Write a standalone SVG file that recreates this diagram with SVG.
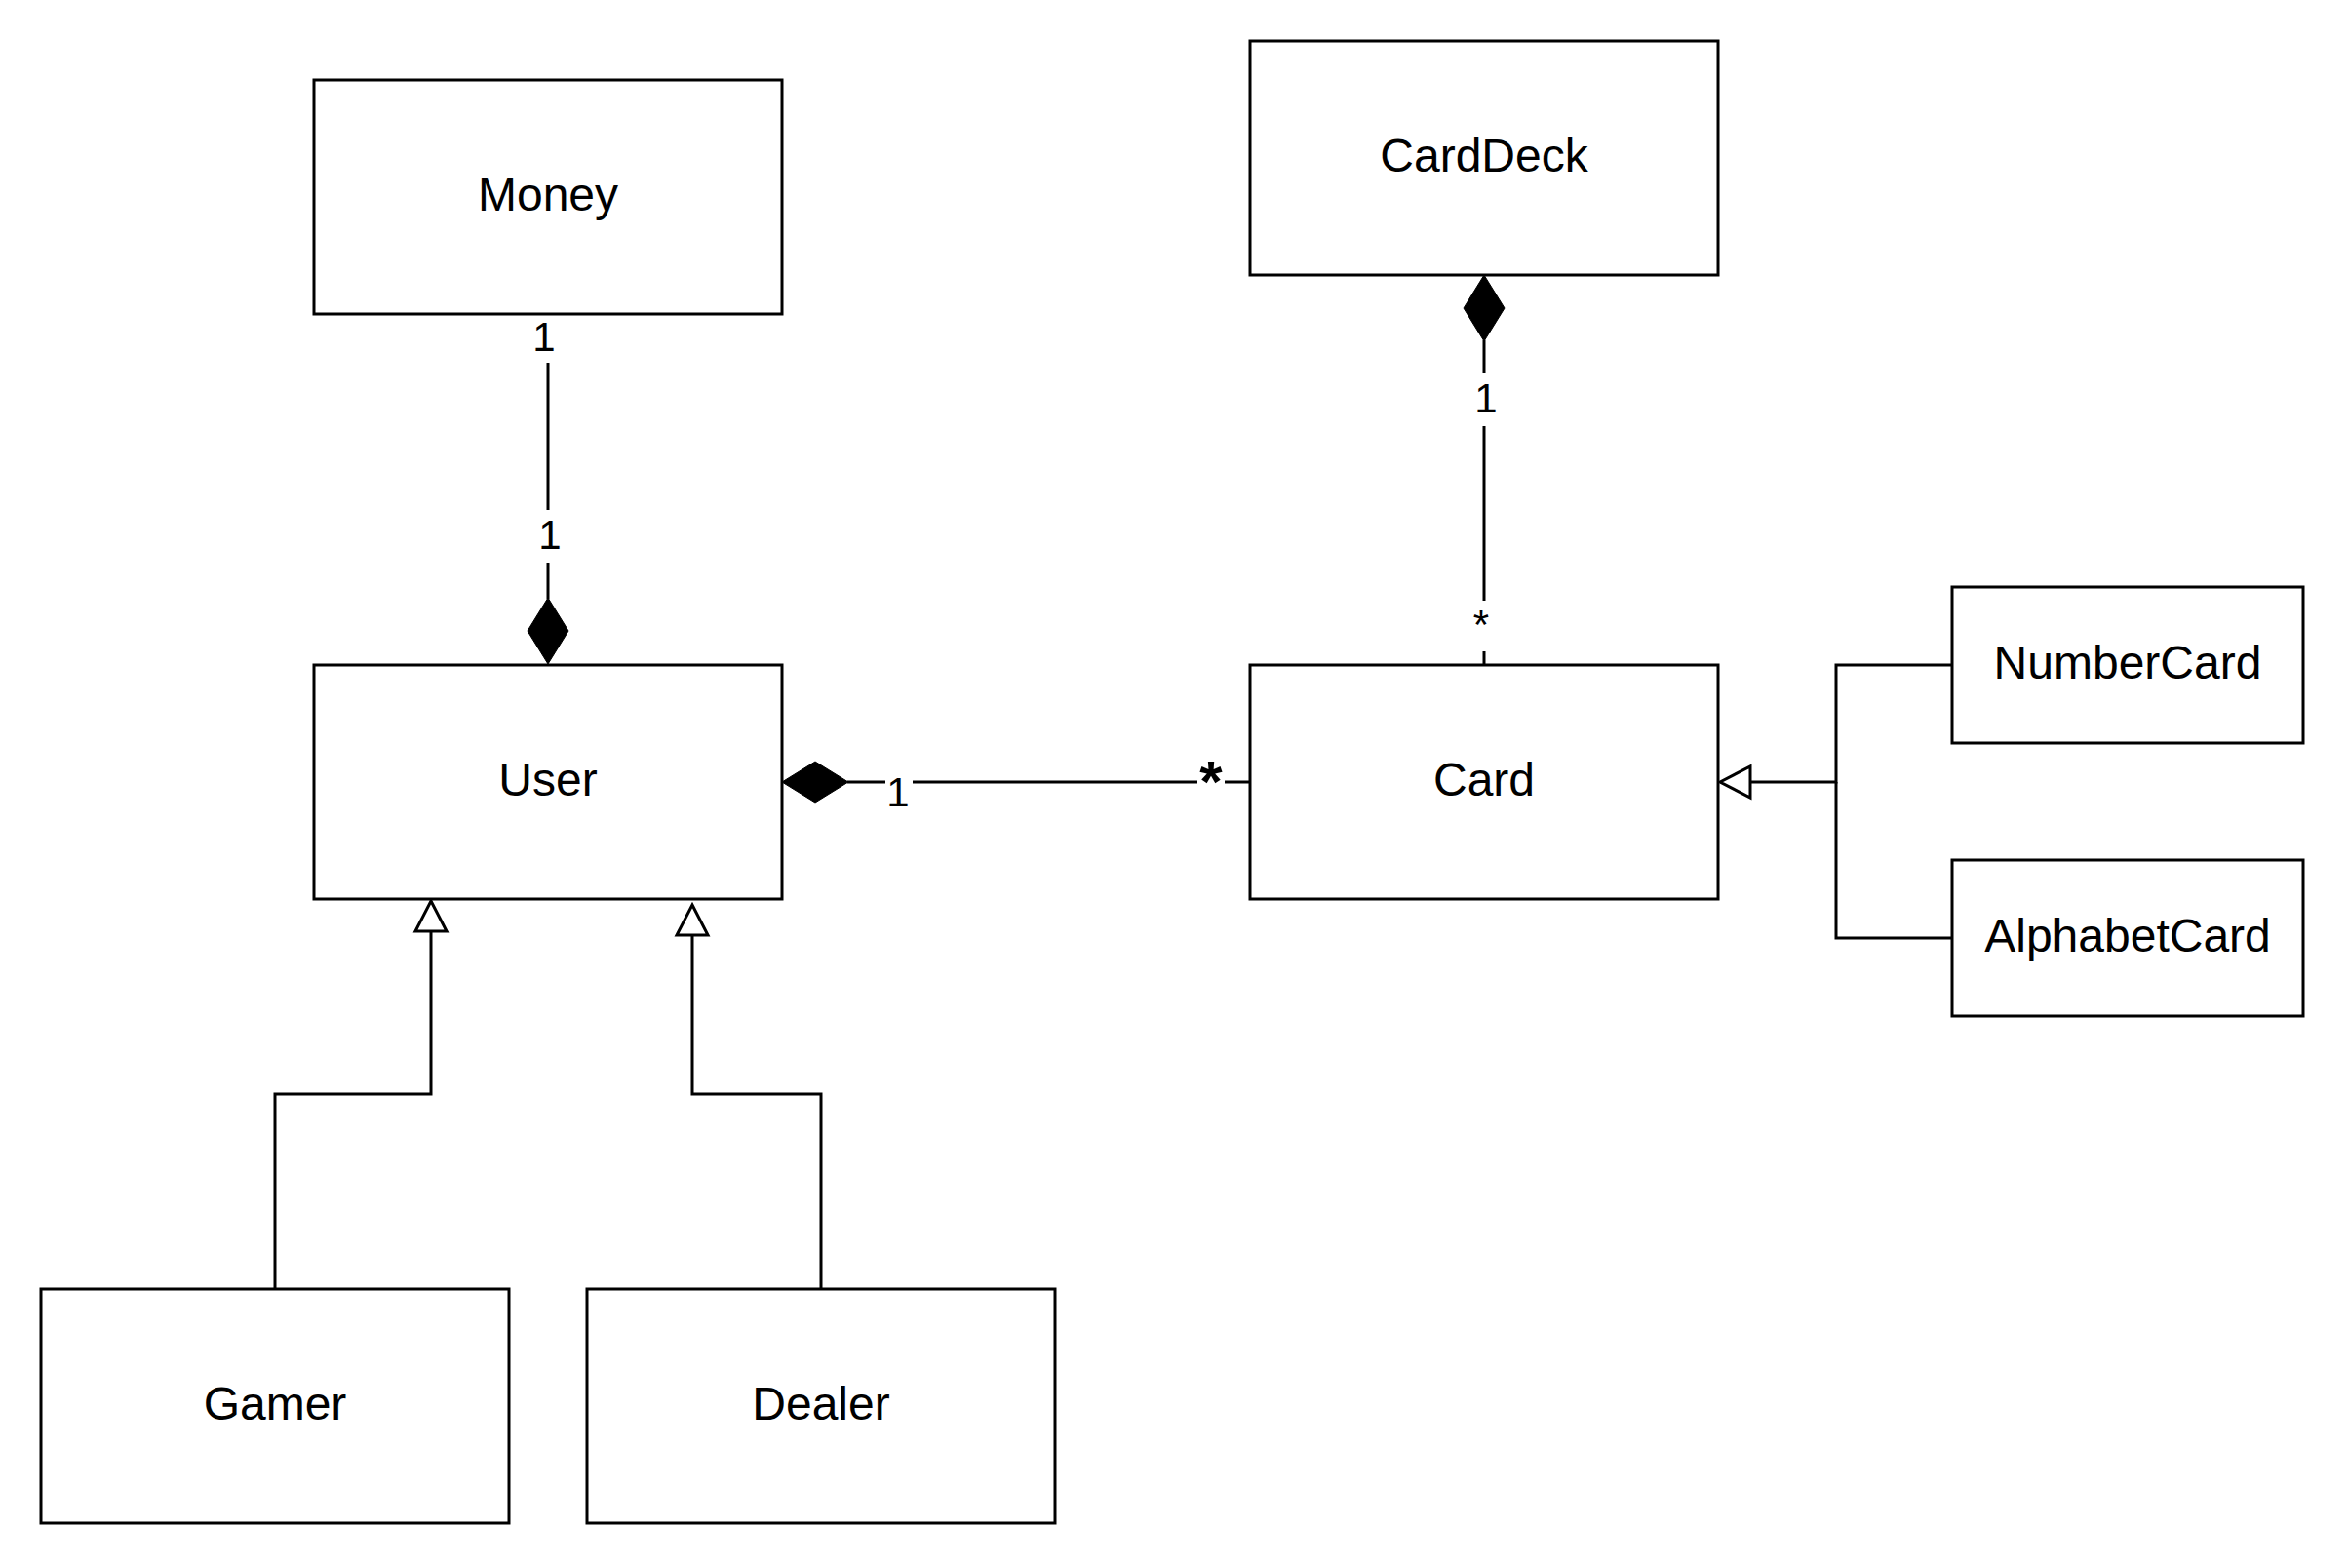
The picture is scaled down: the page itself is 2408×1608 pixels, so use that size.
<svg xmlns="http://www.w3.org/2000/svg" width="2408" height="1608" viewBox="0 0 2408 1608">
<style>
  .box { fill: #ffffff; stroke: #000000; stroke-width: 3; }
  .name { font-family: "Liberation Sans", Arial, Helvetica, sans-serif; font-size: 48px; fill: #000000; text-anchor: middle; }
  .edge { fill: none; stroke: #000000; stroke-width: 3; stroke-linejoin: miter; stroke-linecap: butt; }
  .filled { fill: #000000; stroke: #000000; stroke-width: 1; }
  .hollow { fill: #ffffff; stroke: #000000; stroke-width: 3; stroke-linejoin: miter; }
  .lbl { font-family: "Liberation Sans", Arial, Helvetica, sans-serif; font-size: 42px; fill: #000000; text-anchor: middle; }
  .lblbig { font-family: "Liberation Sans", Arial, Helvetica, sans-serif; font-size: 60px; font-weight: bold; fill: #000000; text-anchor: middle; }
</style>
<rect x="0" y="0" width="2408" height="1608" fill="#ffffff"/>

<g id="connectors">
  <!-- Money - User composition -->
  <g id="edge-money-user">
    <line class="edge" x1="562" y1="372" x2="562" y2="523"/>
    <line class="edge" x1="562" y1="577" x2="562" y2="614"/>
    <polygon class="filled" points="562,613 583,647 562,681 541,647"/>
    <text class="lbl" x="558" y="360">1</text>
    <text class="lbl" x="564" y="563">1</text>
  </g>
  <!-- CardDeck - Card composition -->
  <g id="edge-carddeck-card">
    <polygon class="filled" points="1522,282 1543,316 1522,350 1501,316"/>
    <line class="edge" x1="1522" y1="349" x2="1522" y2="383"/>
    <line class="edge" x1="1522" y1="437" x2="1522" y2="616"/>
    <line class="edge" x1="1522" y1="668" x2="1522" y2="682"/>
    <text class="lbl" x="1524" y="423">1</text>
    <text class="lbl" x="1519" y="655">*</text>
  </g>
  <!-- User - Card composition -->
  <g id="edge-user-card">
    <polygon class="filled" points="802,802 836,781 870,802 836,823"/>
    <line class="edge" x1="869" y1="802" x2="908" y2="802"/>
    <line class="edge" x1="936" y1="802" x2="1228" y2="802"/>
    <line class="edge" x1="1256" y1="802" x2="1282" y2="802"/>
    <text class="lbl" x="921" y="827">1</text>
    <text class="lblbig" x="1242" y="822">*</text>
  </g>
  <!-- Gamer -> User generalization -->
  <g id="edge-gamer-user">
    <path class="edge" d="M282 1322 V1122 H442 V955"/>
    <polygon class="hollow" points="442,924 458,955 426,955"/>
  </g>
  <!-- Dealer -> User generalization -->
  <g id="edge-dealer-user">
    <path class="edge" d="M842 1322 V1122 H710 V959"/>
    <polygon class="hollow" points="710,928 726,959 694,959"/>
  </g>
  <!-- NumberCard / AlphabetCard -> Card generalization -->
  <g id="edge-numbercard-card">
    <path class="edge" d="M2002 682 H1883 V802 H1795"/>
  </g>
  <g id="edge-alphabetcard-card">
    <path class="edge" d="M2002 962 H1883 V802"/>
    <polygon class="hollow" points="1764,802 1795,786 1795,818"/>
  </g>
</g>

<g id="node-money">
  <rect class="box" x="322" y="82" width="480" height="240"/>
  <text class="name" x="562" y="216">Money</text>
</g>
<g id="node-carddeck">
  <rect class="box" x="1282" y="42" width="480" height="240"/>
  <text class="name" x="1522" y="176">CardDeck</text>
</g>
<g id="node-user">
  <rect class="box" x="322" y="682" width="480" height="240"/>
  <text class="name" x="562" y="816">User</text>
</g>
<g id="node-card">
  <rect class="box" x="1282" y="682" width="480" height="240"/>
  <text class="name" x="1522" y="816">Card</text>
</g>
<g id="node-numbercard">
  <rect class="box" x="2002" y="602" width="360" height="160"/>
  <text class="name" x="2182" y="696">NumberCard</text>
</g>
<g id="node-alphabetcard">
  <rect class="box" x="2002" y="882" width="360" height="160"/>
  <text class="name" x="2182" y="976">AlphabetCard</text>
</g>
<g id="node-gamer">
  <rect class="box" x="42" y="1322" width="480" height="240"/>
  <text class="name" x="282" y="1456">Gamer</text>
</g>
<g id="node-dealer">
  <rect class="box" x="602" y="1322" width="480" height="240"/>
  <text class="name" x="842" y="1456">Dealer</text>
</g>
</svg>
